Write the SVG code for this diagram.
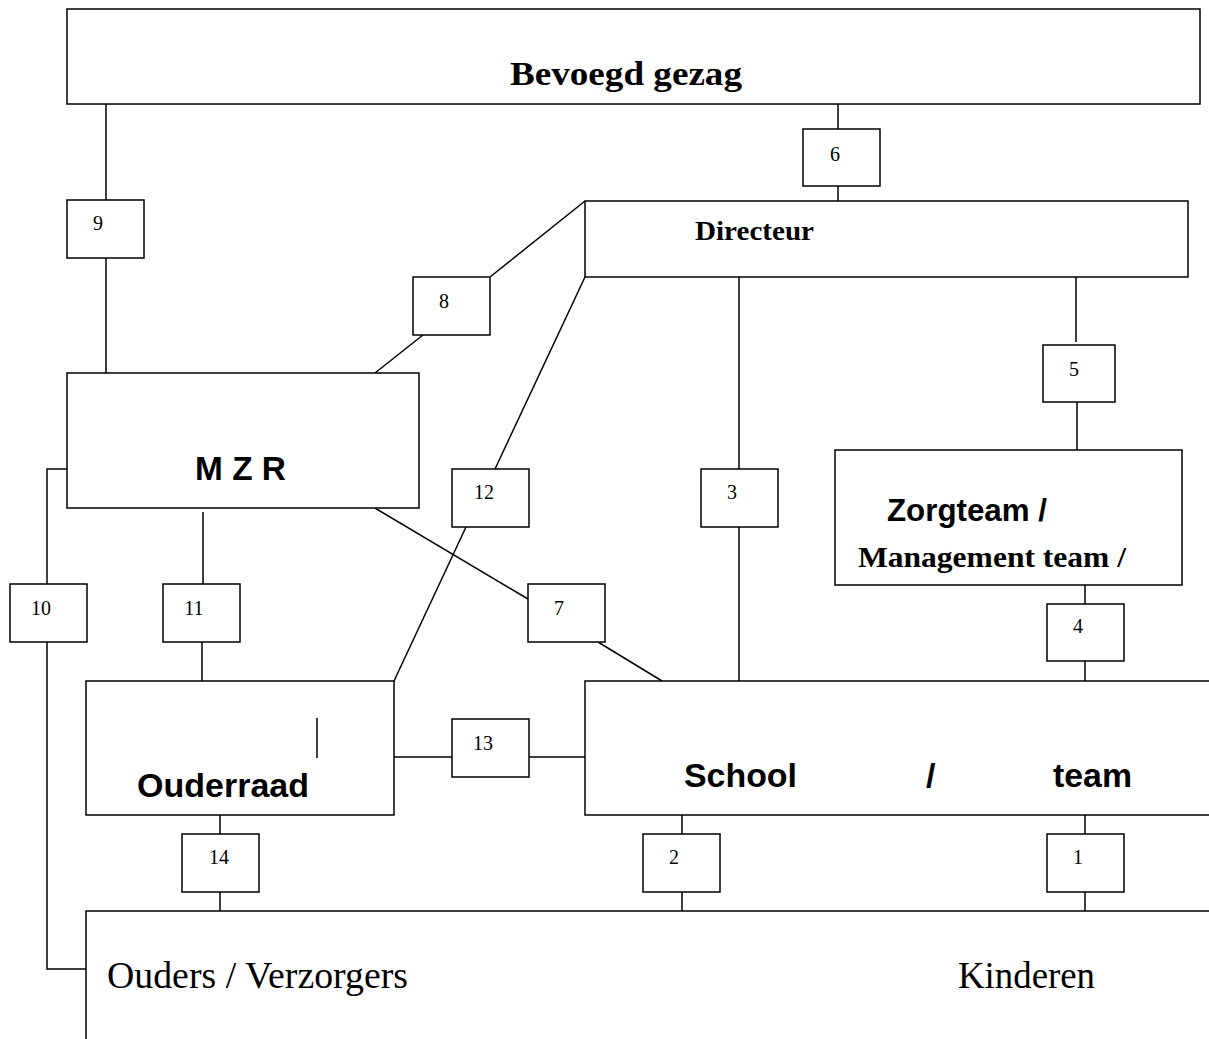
<svg xmlns="http://www.w3.org/2000/svg" width="1209" height="1039" viewBox="0 0 1209 1039">
<style>
.n{fill:#fff;stroke:#000;stroke-width:1.5}
.c line,.c polyline{stroke:#000;stroke-width:1.5;fill:none}
.lb{fill:#fff;stroke:#000;stroke-width:1.5}
.num{font-family:"Liberation Serif",serif;font-size:20px;text-anchor:middle;fill:#000}
.tb{font-family:"Liberation Serif",serif;font-weight:bold;fill:#000}
.ab{font-family:"Liberation Sans",sans-serif;font-weight:bold;fill:#000}
.tr{font-family:"Liberation Serif",serif;fill:#000}
</style>
<rect width="1209" height="1039" fill="#fff"/>
<g class="c" id="connectors">
<line x1="106" y1="104" x2="106" y2="373"/>
<line x1="838" y1="104" x2="838" y2="201"/>
<line x1="585" y1="201" x2="490" y2="277"/>
<line x1="423" y1="335" x2="375" y2="373"/>
<line x1="585" y1="277" x2="495" y2="469"/>
<line x1="466" y1="527" x2="394" y2="681"/>
<line x1="203" y1="512" x2="203" y2="584"/>
<line x1="202" y1="642" x2="202" y2="681"/>
<polyline points="67,469 47,469 47,969 86,969"/>
<line x1="375" y1="508" x2="528" y2="599"/>
<line x1="598" y1="642" x2="662" y2="681"/>
<line x1="739" y1="277" x2="739" y2="681"/>
<line x1="1076" y1="277" x2="1076" y2="342"/>
<line x1="1077" y1="402" x2="1077" y2="450"/>
<line x1="1085" y1="585" x2="1085" y2="681"/>
<line x1="394" y1="757" x2="585" y2="757"/>
<line x1="220" y1="815" x2="220" y2="911"/>
<line x1="682" y1="815" x2="682" y2="911"/>
<line x1="1085" y1="815" x2="1085" y2="911"/>
</g>
<g id="bevoegd-gezag">
<rect class="n" x="67" y="9" width="1133" height="95"/>
<text class="tb" x="510" y="85" font-size="34" textLength="232" lengthAdjust="spacingAndGlyphs">Bevoegd gezag</text>
</g>
<g id="directeur">
<rect class="n" x="585" y="201" width="603" height="76"/>
<text class="tb" x="695" y="240" font-size="27" textLength="119" lengthAdjust="spacingAndGlyphs">Directeur</text>
</g>
<g id="mzr">
<rect class="n" x="67" y="373" width="352" height="135"/>
<text class="ab" x="195" y="480" font-size="33" textLength="91" lengthAdjust="spacingAndGlyphs">M Z R</text>
</g>
<g id="zorgteam">
<rect class="n" x="835" y="450" width="347" height="135"/>
<text class="ab" x="887" y="521" font-size="31" textLength="160" lengthAdjust="spacingAndGlyphs">Zorgteam /</text>
<text class="tb" x="858" y="567" font-size="30" textLength="268" lengthAdjust="spacingAndGlyphs">Management team /</text>
</g>
<g id="ouderraad">
<rect class="n" x="86" y="681" width="308" height="134"/>
<line x1="317" y1="718" x2="317" y2="758" stroke="#000" stroke-width="1.5"/>
<text class="ab" x="137" y="797" font-size="34" textLength="172" lengthAdjust="spacingAndGlyphs">Ouderraad</text>
</g>
<g id="school-team">
<rect class="n" x="585" y="681" width="640" height="134"/>
<text class="ab" x="684" y="787" font-size="34" textLength="113" lengthAdjust="spacingAndGlyphs">School</text>
<text class="ab" x="926" y="787" font-size="34">/</text>
<text class="ab" x="1053" y="787" font-size="34" textLength="79" lengthAdjust="spacingAndGlyphs">team</text>
</g>
<g id="ouders-kinderen">
<polyline points="86,1039 86,911 1209,911" fill="none" stroke="#000" stroke-width="1.5"/>
<text class="tr" x="107" y="988" font-size="37" textLength="301" lengthAdjust="spacingAndGlyphs">Ouders / Verzorgers</text>
<text class="tr" x="958" y="988" font-size="37" textLength="137" lengthAdjust="spacingAndGlyphs">Kinderen</text>
</g>
<g id="label-9"><rect class="lb" x="67" y="200" width="77" height="58"/><text class="num" x="98" y="230">9</text></g>
<g id="label-6"><rect class="lb" x="803" y="129" width="77" height="57"/><text class="num" x="835" y="161">6</text></g>
<g id="label-8"><rect class="lb" x="413" y="277" width="77" height="58"/><text class="num" x="444" y="308">8</text></g>
<g id="label-5"><rect class="lb" x="1043" y="345" width="72" height="57"/><text class="num" x="1074" y="376">5</text></g>
<g id="label-12"><rect class="lb" x="452" y="469" width="77" height="58"/><text class="num" x="484" y="499">12</text></g>
<g id="label-3"><rect class="lb" x="701" y="469" width="77" height="58"/><text class="num" x="732" y="499">3</text></g>
<g id="label-10"><rect class="lb" x="10" y="584" width="77" height="58"/><text class="num" x="41" y="615">10</text></g>
<g id="label-11"><rect class="lb" x="163" y="584" width="77" height="58"/><text class="num" x="194" y="615">11</text></g>
<g id="label-7"><rect class="lb" x="528" y="584" width="77" height="58"/><text class="num" x="559" y="615">7</text></g>
<g id="label-4"><rect class="lb" x="1047" y="604" width="77" height="57"/><text class="num" x="1078" y="633">4</text></g>
<g id="label-13"><rect class="lb" x="452" y="719" width="77" height="58"/><text class="num" x="483" y="750">13</text></g>
<g id="label-14"><rect class="lb" x="182" y="834" width="77" height="58"/><text class="num" x="219" y="864">14</text></g>
<g id="label-2"><rect class="lb" x="643" y="834" width="77" height="58"/><text class="num" x="674" y="864">2</text></g>
<g id="label-1"><rect class="lb" x="1047" y="834" width="77" height="58"/><text class="num" x="1078" y="864">1</text></g>
</svg>
